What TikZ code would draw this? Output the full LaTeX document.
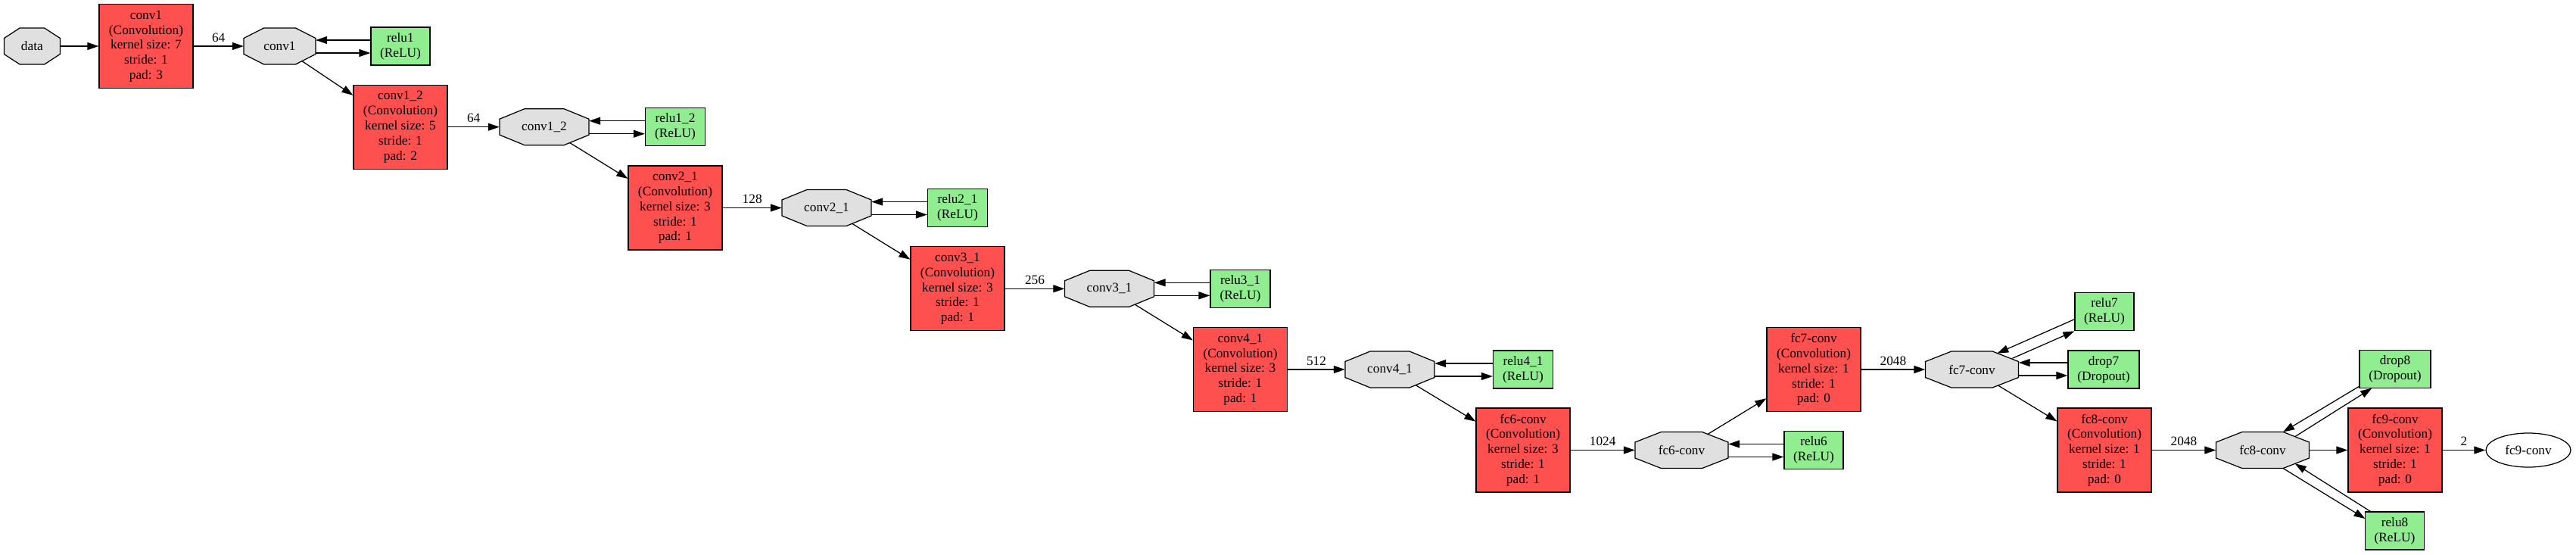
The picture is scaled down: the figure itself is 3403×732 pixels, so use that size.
\documentclass[tikz,border=0pt]{standalone}
\usepackage{fontspec}
\setmainfont{Liberation Serif}
\usetikzlibrary{arrows.meta,calc,shapes.geometric}
\definecolor{convred}{HTML}{FF5050}
\definecolor{relugreen}{HTML}{90EE90}
\definecolor{blobgray}{HTML}{E0E0E0}
\tikzset{
  every node/.style={font=\fontsize{17.3}{19.8}\selectfont},
  conv/.style={draw=black, line width=1.25pt, fill=convred, minimum width=124pt, minimum height=111pt, inner sep=0pt, align=center},
  neuron/.style={draw=black, line width=1.25pt, fill=relugreen, minimum height=50pt, inner sep=0pt, align=center},
  blobtxt/.style={inner sep=0pt, minimum height=48pt},
  octline/.style={draw=black, line width=1.25pt, fill=blobgray},
  outblob/.style={draw=black, line width=1.25pt, ellipse, minimum width=112pt, minimum height=45pt, inner sep=0pt},
  arr/.style={line width=1.25pt, -{Triangle[length=15pt,width=10pt]}},
  lbl/.style={midway, above=5pt, inner sep=0pt},
}
\newcommand\blobnode[5]{%
  \path[octline] ({#2-#4/2},{#3-10.5}) -- ({#2-0.22*#4},{#3-24}) -- ({#2+0.22*#4},{#3-24}) -- ({#2+#4/2},{#3-10.5}) -- ({#2+#4/2},{#3+10.5}) -- ({#2+0.22*#4},{#3+24}) -- ({#2-0.22*#4},{#3+24}) -- ({#2-#4/2},{#3+10.5}) -- cycle;
  \node[blobtxt, minimum width=#4pt] (#1) at (#2,#3) {#5};
}
\begin{document}
\begin{tikzpicture}[x=1pt,y=-1pt]
\useasboundingbox (0,0) rectangle (3403,732);
% nodes
\blobnode{data}{42.4}{61}{74}{data}
\node[conv] (conv1L) at (193,61) {conv1\\(Convolution)\\kernel size: 7\\stride: 1\\pad: 3};
\blobnode{conv1}{369.5}{61}{95}{conv1}
\node[neuron, minimum width=78pt] (relu1) at (529,61) {relu1\\(ReLU)};
\node[conv] (conv12L) at (529,167.7) {conv1\_2\\(Convolution)\\kernel size: 5\\stride: 1\\pad: 2};
\blobnode{conv12}{719}{167.7}{118}{conv1\_2}
\node[neuron, minimum width=79pt] (relu12) at (892,167.7) {relu1\_2\\(ReLU)};
\node[conv] (conv21L) at (892,274.5) {conv2\_1\\(Convolution)\\kernel size: 3\\stride: 1\\pad: 1};
\blobnode{conv21}{1092}{274.5}{118}{conv2\_1}
\node[neuron, minimum width=79pt] (relu21) at (1265,274.5) {relu2\_1\\(ReLU)};
\node[conv] (conv31L) at (1265,381.3) {conv3\_1\\(Convolution)\\kernel size: 3\\stride: 1\\pad: 1};
\blobnode{conv31}{1465.5}{381.3}{118}{conv3\_1}
\node[neuron, minimum width=79pt] (relu31) at (1638.5,381.3) {relu3\_1\\(ReLU)};
\node[conv] (conv41L) at (1638.5,488) {conv4\_1\\(Convolution)\\kernel size: 3\\stride: 1\\pad: 1};
\blobnode{conv41}{1836}{488}{118}{conv4\_1}
\node[neuron, minimum width=79pt] (relu41) at (2012,488) {relu4\_1\\(ReLU)};
\node[conv] (fc6L) at (2012,594.5) {fc6-conv\\(Convolution)\\kernel size: 3\\stride: 1\\pad: 1};
\blobnode{fc6}{2221.5}{594.5}{123}{fc6-conv}
\node[neuron, minimum width=78pt] (relu6) at (2396,594.5) {relu6\\(ReLU)};
\node[conv] (fc7L) at (2396,488) {fc7-conv\\(Convolution)\\kernel size: 1\\stride: 1\\pad: 0};
\blobnode{fc7}{2605}{488}{123}{fc7-conv}
\node[neuron, minimum width=78pt] (relu7) at (2780,411.7) {relu7\\(ReLU)};
\node[neuron, minimum width=94pt] (drop7) at (2779,488) {drop7\\(Dropout)};
\node[conv] (fc8L) at (2780,594.5) {fc8-conv\\(Convolution)\\kernel size: 1\\stride: 1\\pad: 0};
\blobnode{fc8}{2989}{594.5}{123}{fc8-conv}
\node[neuron, minimum width=94pt] (drop8) at (3164,487.7) {drop8\\(Dropout)};
\node[conv] (fc9L) at (3164,594.5) {fc9-conv\\(Convolution)\\kernel size: 1\\stride: 1\\pad: 0};
\node[neuron, minimum width=78pt] (relu8) at (3163.5,701) {relu8\\(ReLU)};
\node[outblob] (fc9) at (3340,594.5) {fc9-conv};
% edges
\draw[arr] (data) -- (conv1L);
\draw[arr] (conv1L) -- node[lbl]{64} (conv1);
\draw[arr] ([yshift=8pt]relu1.west) -- ([yshift=8pt]conv1.east);
\draw[arr] ([yshift=-9pt]conv1.east) -- ([yshift=-9pt]relu1.west);
\draw[arr] ([shift={(29.4pt,-19.6pt)}]conv1.center) -- (conv12L);
\draw[arr] (conv12L) -- node[lbl]{64} (conv12);
\draw[arr] ([yshift=8pt]relu12.west) -- ([yshift=8pt]conv12.east);
\draw[arr] ([yshift=-9pt]conv12.east) -- ([yshift=-9pt]relu12.west);
\draw[arr] ([shift={(33.5pt,-20.7pt)}]conv12.center) -- (conv21L);
\draw[arr] (conv21L) -- node[lbl]{128} (conv21);
\draw[arr] ([yshift=8pt]relu21.west) -- ([yshift=8pt]conv21.east);
\draw[arr] ([yshift=-9pt]conv21.east) -- ([yshift=-9pt]relu21.west);
\draw[arr] ([shift={(33.5pt,-20.7pt)}]conv21.center) -- (conv31L);
\draw[arr] (conv31L) -- node[lbl]{256} (conv31);
\draw[arr] ([yshift=8pt]relu31.west) -- ([yshift=8pt]conv31.east);
\draw[arr] ([yshift=-9pt]conv31.east) -- ([yshift=-9pt]relu31.west);
\draw[arr] ([shift={(33.5pt,-20.7pt)}]conv31.center) -- (conv41L);
\draw[arr] (conv41L) -- node[lbl]{512} (conv41);
\draw[arr] ([yshift=8pt]relu41.west) -- ([yshift=8pt]conv41.east);
\draw[arr] ([yshift=-9pt]conv41.east) -- ([yshift=-9pt]relu41.west);
\draw[arr] ([shift={(33.9pt,-20.5pt)}]conv41.center) -- (fc6L);
\draw[arr] (fc6L) -- node[lbl]{1024} (fc6);
\draw[arr] ([yshift=8pt]relu6.west) -- ([yshift=8pt]fc6.east);
\draw[arr] ([yshift=-9pt]fc6.east) -- ([yshift=-9pt]relu6.west);
\draw[arr] ([shift={(34.2pt,20.9pt)}]fc6.center) -- (fc7L);
\draw[arr] (fc7L) -- node[lbl]{2048} (fc7);
\draw[arr] ([yshift=-10pt]relu7.west) -- ([shift={(33.3pt,21.3pt)}]fc7.center);
\draw[arr] ([shift={(53.3pt,14.7pt)}]fc7.center) -- (relu7.south west);
\draw[arr] ([yshift=9pt]drop7.west) -- ([yshift=9pt]fc7.east);
\draw[arr] ([yshift=-8pt]fc7.east) -- ([yshift=-8pt]drop7.west);
\draw[arr] ([shift={(34.2pt,-20.8pt)}]fc7.center) -- (fc8L);
\draw[arr] (fc8L) -- node[lbl]{2048} (fc8);
\draw[arr] ([shift={(-47pt,-22.3pt)}]drop8.center) -- ([shift={(27pt,24pt)}]fc8.center);
\draw[arr] ([shift={(42.7pt,17.8pt)}]fc8.center) -- ([shift={(-30.7pt,-25pt)}]drop8.center);
\draw[arr] (fc8) -- (fc9L);
\draw[arr] ([shift={(27pt,-24pt)}]fc8.center) -- ([shift={(-39pt,16pt)}]relu8.center);
\draw[arr] ([shift={(-31.2pt,25pt)}]relu8.center) -- ([shift={(42.7pt,-17.8pt)}]fc8.center);
\draw[arr] (fc9L) -- node[lbl]{2} (fc9);
\end{tikzpicture}
\end{document}
